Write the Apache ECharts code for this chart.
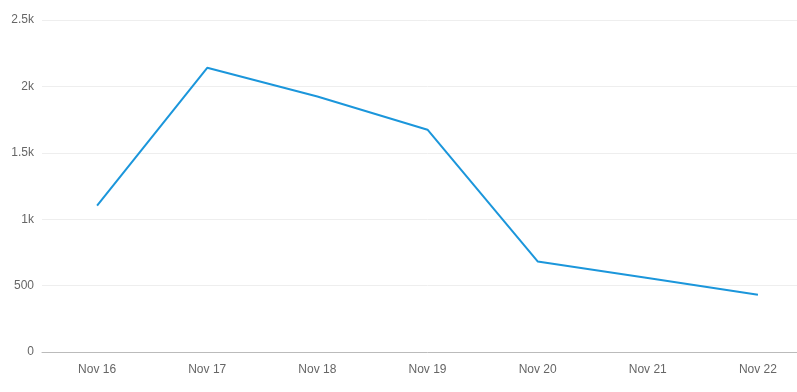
<!DOCTYPE html>
<html><head><meta charset="utf-8">
<script src="https://cdn.jsdelivr.net/npm/echarts@6/dist/echarts.min.js"></script>
<style>html,body{margin:0;padding:0;background:#fff;overflow:hidden;width:797px;height:392px}#c{width:813px;height:392px}</style>
</head><body><div id="c"></div>
<script>
var categories = ['Nov 16','Nov 17','Nov 18','Nov 19','Nov 20','Nov 21','Nov 22'];
var values = [1102, 2140, 1924, 1674, 682, 557, 431];
var chart = echarts.init(document.getElementById('c'), null, {renderer:'canvas'});
chart.setOption({
  animation:false,
  backgroundColor:'#fff',
  grid:{left:42,right:0,top:20,bottom:40,containLabel:false},
  xAxis:{type:'category',data:categories,boundaryGap:true,
    axisLine:{lineStyle:{color:'#bbb'}},
    axisTick:{alignWithLabel:true,length:5,lineStyle:{color:'#bbb'}},
    axisLabel:{color:'#666',fontSize:12,fontFamily:'Liberation Sans, Arial',margin:12}},
  yAxis:{type:'value',min:0,max:2500,interval:500,
    axisLine:{show:false},axisTick:{show:false},
    splitLine:{lineStyle:{color:'#eee'}},
    axisLabel:{color:'#666',fontSize:12,fontFamily:'Liberation Sans, Arial',margin:8,
      formatter:function(v){return v>=1000?(v/1000)+'k':String(v);}}},
  series:[{type:'line',data:values,symbol:'none',lineStyle:{color:'#1b96db',width:2},itemStyle:{color:'#1b96db'}}]
});
</script></body></html>
